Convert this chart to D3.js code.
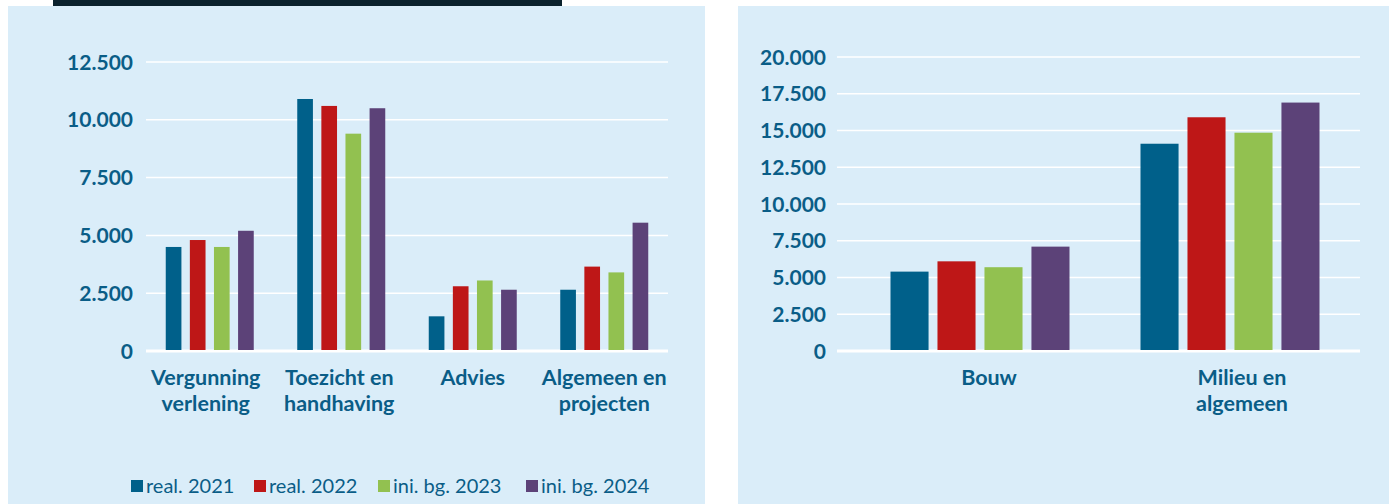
<!DOCTYPE html>
<html>
<head>
<meta charset="utf-8">
<script src="https://cdn.jsdelivr.net/npm/d3@7"></script>
<style>
  body { margin: 0; background: #fff; }
  svg { display: block; font-family: Lato, "Open Sans", sans-serif; }
</style>
</head>
<body>
<div id="vis"></div>
<script>
const width = 1389;
const height = 504;

// data
const series = ['real. 2021', 'real. 2022', 'ini. bg. 2023', 'ini. bg. 2024'];
const colors = ['#00608a', '#be1717', '#92c150', '#5c4278'];

const leftCategories = [['Vergunning', 'verlening'], ['Toezicht en', 'handhaving'], ['Advies'], ['Algemeen en', 'projecten']];
const leftValues = [
    [4500, 4800, 4500, 5200],
    [10900, 10600, 9400, 10500],
    [1500, 2800, 3050, 2650],
    [2650, 3650, 3400, 5550]
];
const leftTicks = [0, 2500, 5000, 7500, 10000, 12500];

const rightCategories = [['Bouw'], ['Milieu en', 'algemeen']];
const rightValues = [
    [5400, 6100, 5700, 7100],
    [14100, 15900, 14850, 16900]
];
const rightTicks = [0, 2500, 5000, 7500, 10000, 12500, 15000, 17500, 20000];

const textColor = '#0a5d87';
const fmt = d => d3.format(',')(d).replace(/,/g, '.');

const svg = d3.select('#vis')
    .append('svg')
    .attr('width', width)
    .attr('height', height);

// panels
svg.append('rect').attr('x', 8).attr('y', 6).attr('width', 697).attr('height', height - 6).attr('fill', '#daedf9');
svg.append('rect').attr('x', 738).attr('y', 6).attr('width', width - 738).attr('height', height - 6).attr('fill', '#daedf9');
// dark header bar cut off at the top
svg.append('rect').attr('x', 53).attr('y', 0).attr('width', 509).attr('height', 6).attr('fill', '#0b222d');

function drawChart(opt) {
    const g = svg.append('g');

    const y = d3.scaleLinear()
        .domain([0, opt.max])
        .range([351, opt.top]);

    const x0 = d3.scaleBand()
        .domain(d3.range(opt.categories.length))
        .range(opt.barRange);

    const x1 = d3.scaleBand()
        .domain(d3.range(series.length))
        .range([(x0.bandwidth() - opt.groupWidth) / 2, (x0.bandwidth() + opt.groupWidth) / 2])
        .paddingInner(opt.innerPad);

    // gridlines
    g.selectAll('line.grid')
        .data(opt.ticks)
        .join('line')
        .attr('class', 'grid')
        .attr('x1', opt.gridX[0])
        .attr('x2', opt.gridX[1])
        .attr('y1', d => y(d))
        .attr('y2', d => y(d))
        .attr('stroke', '#fff')
        .attr('stroke-width', d => d === 0 ? 3 : 1.5);

    // tick labels
    g.selectAll('text.tick')
        .data(opt.ticks)
        .join('text')
        .attr('class', 'tick')
        .attr('x', opt.labelX)
        .attr('y', d => y(d))
        .attr('dy', '0.36em')
        .attr('text-anchor', 'end')
        .attr('fill', textColor)
        .attr('font-weight', 'bold')
        .attr('font-size', 21)
        .text(fmt);

    // bars
    const groups = g.selectAll('g.group')
        .data(opt.values)
        .join('g')
        .attr('class', 'group')
        .attr('transform', (d, i) => `translate(${x0(i)},0)`);

    groups.selectAll('rect')
        .data(d => d)
        .join('rect')
        .attr('x', (d, i) => x1(i))
        .attr('width', x1.bandwidth())
        .attr('y', d => y(d))
        .attr('height', d => y(0) - y(d) - 1)
        .attr('fill', (d, i) => colors[i]);

    // category labels
    const cat = g.selectAll('text.cat')
        .data(opt.categories)
        .join('text')
        .attr('class', 'cat')
        .attr('x', (d, i) => x0(i) + x0.bandwidth() / 2 + (opt.catShift ? opt.catShift[i] : 0))
        .attr('y', 385)
        .attr('text-anchor', 'middle')
        .attr('fill', textColor)
        .attr('font-weight', 'bold')
        .attr('font-size', 21.5);

    cat.selectAll('tspan')
        .data(d => d)
        .join('tspan')
        .attr('x', function () { return d3.select(this.parentNode).attr('x'); })
        .attr('dy', (d, i) => i === 0 ? 0 : 26)
        .text(d => d);
}

drawChart({
    categories: leftCategories,
    values: leftValues,
    ticks: leftTicks,
    max: 12500,
    top: 62,
    barRange: [144, 670],
    gridX: [146, 668],
    groupWidth: 88,
    innerPad: 0.35,
    labelX: 133,
    catShift: [-4, -2, 0, 0]
});

drawChart({
    categories: rightCategories,
    values: rightValues,
    ticks: rightTicks,
    max: 20000,
    top: 57,
    barRange: [855, 1355],
    gridX: [837, 1360],
    groupWidth: 179,
    innerPad: 0.19,
    labelX: 826,
    catShift: [9, 12]
});

// legend
const legend = svg.append('g').attr('transform', 'translate(131,486)');
const legendX = [0, 123, 247, 395];

const items = legend.selectAll('g')
    .data(series)
    .join('g')
    .attr('transform', (d, i) => `translate(${legendX[i]},0)`);

items.append('rect')
    .attr('x', 0)
    .attr('y', -6)
    .attr('width', 12)
    .attr('height', 12)
    .attr('fill', (d, i) => colors[i]);

items.append('text')
    .attr('x', 15)
    .attr('y', 0)
    .attr('dy', '0.36em')
    .attr('fill', textColor)
    .attr('font-size', 20)
    .text(d => d);
</script>
</body>
</html>
